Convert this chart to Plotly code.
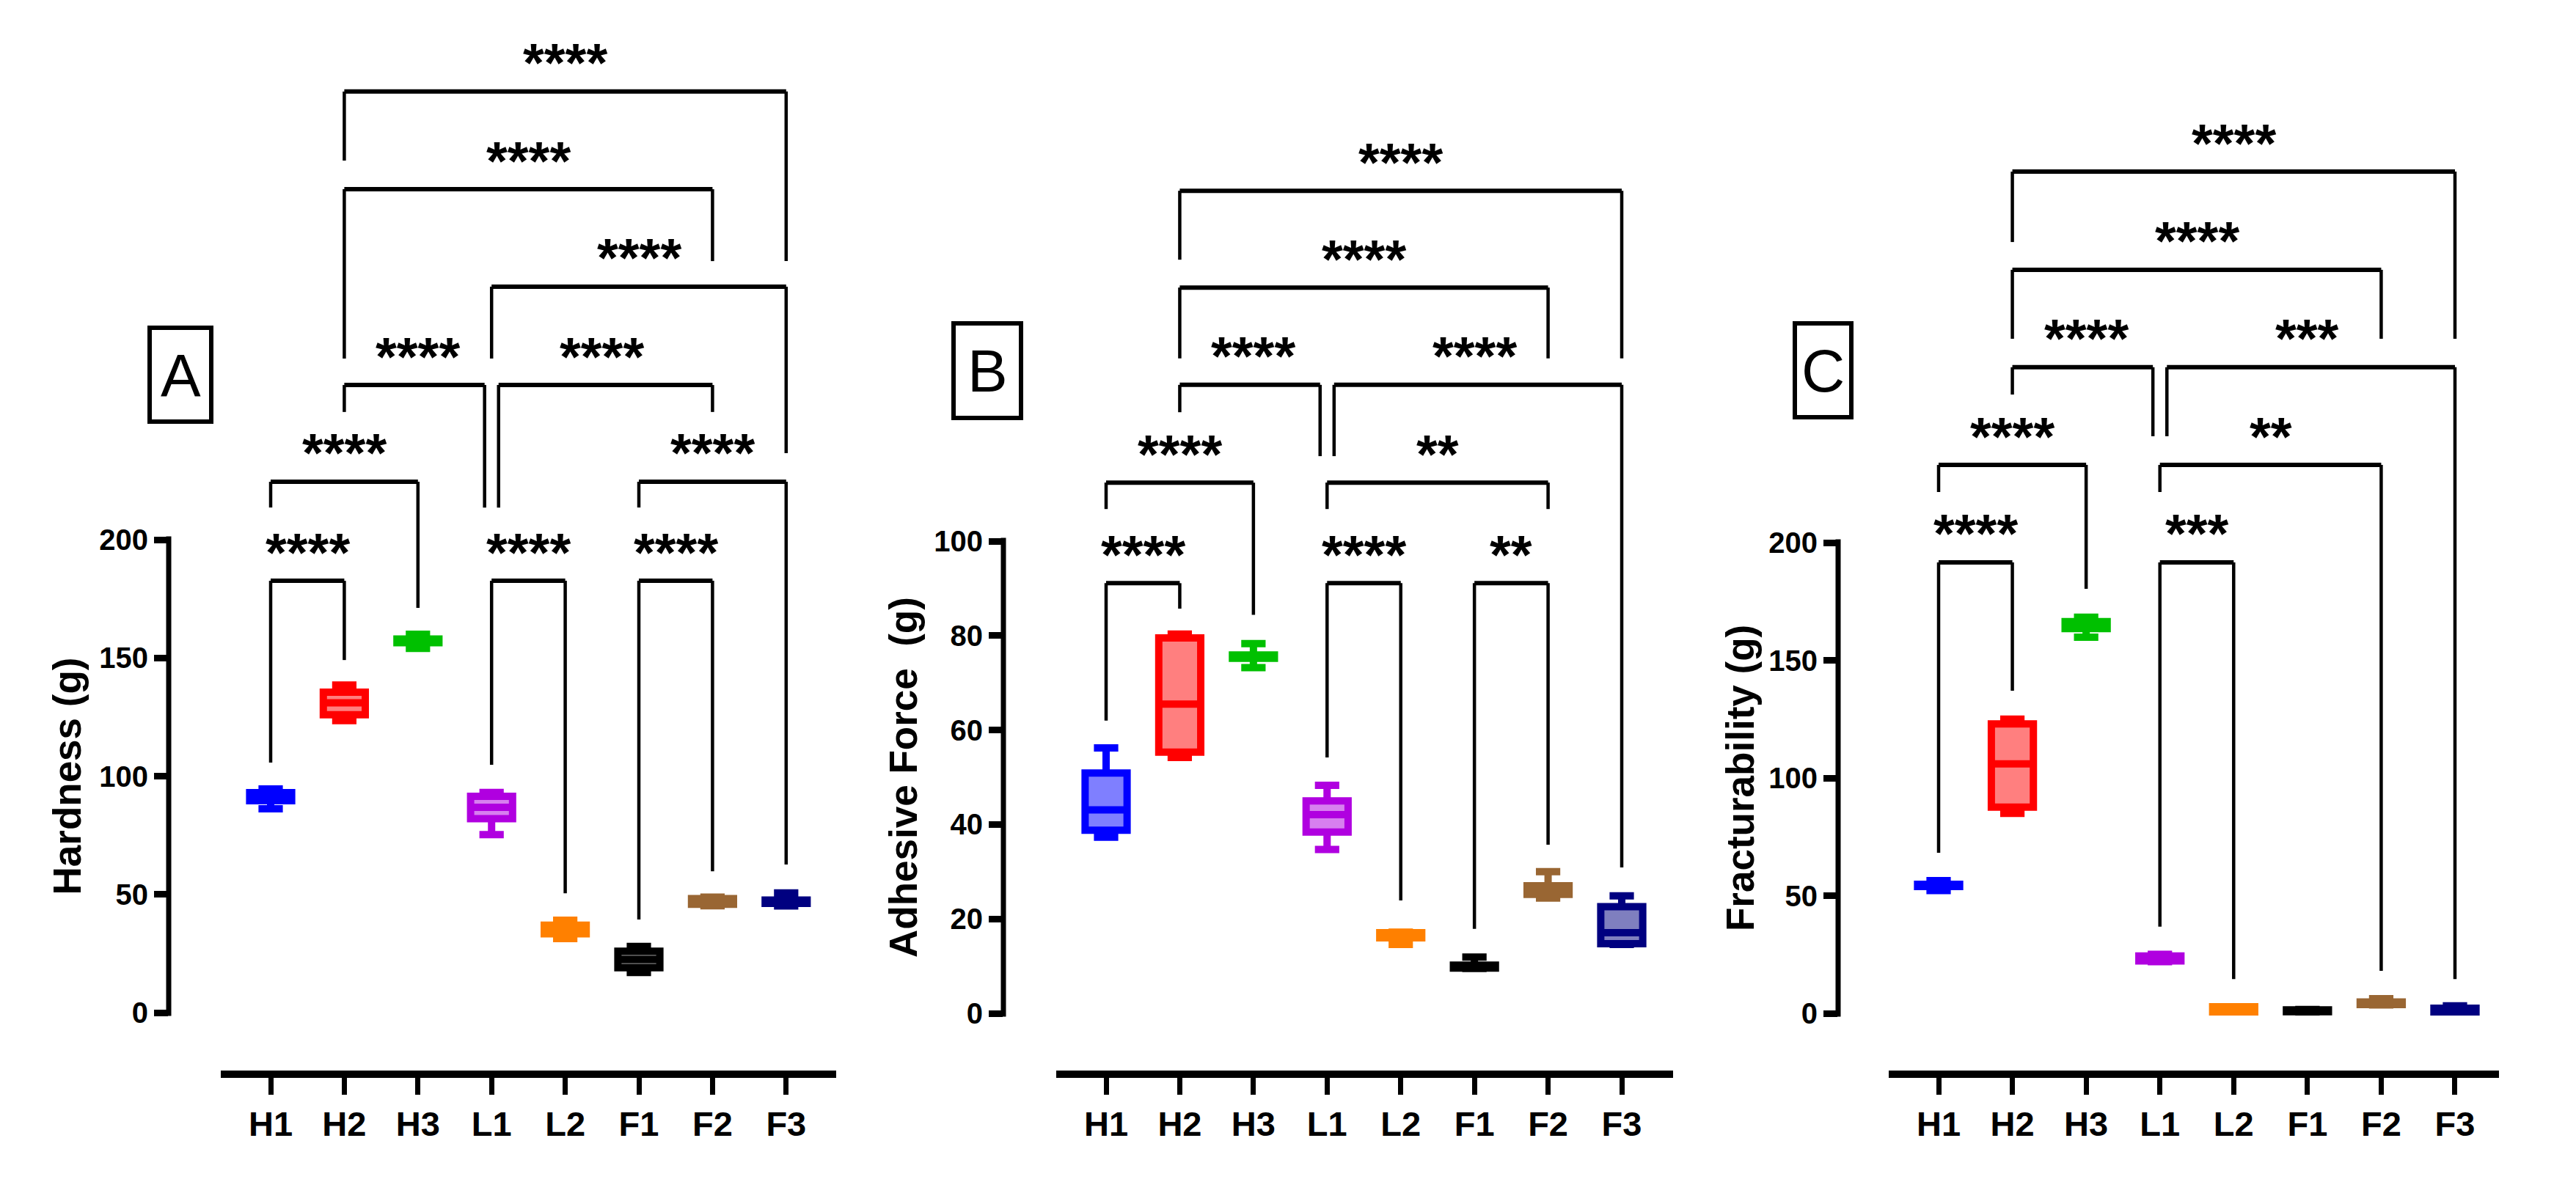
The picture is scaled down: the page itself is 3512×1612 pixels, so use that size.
import plotly.graph_objects as go

# ---------------- data ----------------
categories = ["H1", "H2", "H3", "L1", "L2", "F1", "F2", "F3"]
colors = ["#0000FF", "#FF0000", "#00C000", "#B000E0", "#FF8000", "#000000", "#996633", "#000080"]

# Panel A: Hardness (g)  (min, q1, median, q3, max)
hard_min = [86.2, 123.5, 154.0, 75.3, 31.3, 17.0, 45.2, 45.1]
hard_q1 = [89.6, 126.0, 156.4, 82.0, 33.3, 19.0, 45.8, 46.2]
hard_med = [91.3, 131.0, 157.2, 86.8, 34.5, 22.5, 47.0, 47.0]
hard_q3 = [93.0, 135.5, 158.0, 91.5, 37.0, 26.0, 48.2, 47.6]
hard_max = [94.6, 138.5, 160.0, 93.1, 39.1, 28.0, 48.8, 50.6]

# Panel B: Adhesive Force (g)
adh_min = [37.3, 54.2, 73.2, 34.7, 14.6, 9.5, 24.4, 14.6]
adh_q1 = [38.8, 55.3, 75.2, 38.4, 16.0, 9.6, 25.2, 14.75]
adh_med = [43.1, 65.5, 75.5, 42.1, 16.5, 9.9, 26.0, 17.1]
adh_q3 = [50.9, 79.5, 75.9, 45.0, 17.1, 10.2, 27.0, 22.6]
adh_max = [56.2, 80.3, 78.3, 48.3, 17.2, 11.9, 30.0, 24.9]

# Panel C: Fracturability (g)
frac_min = [52.2, 85.0, 159.8, 22.0, 0.6, 0.6, 3.6, 0.6]
frac_q1 = [53.9, 87.6, 163.5, 22.3, 0.6, 0.7, 3.7, 0.6]
frac_med = [54.3, 106.0, 165.5, 23.4, 1.5, 1.1, 4.3, 1.2]
frac_q3 = [54.8, 123.0, 166.4, 24.4, 2.8, 1.5, 4.8, 2.2]
frac_max = [56.4, 125.0, 168.3, 25.1, 2.8, 1.6, 6.2, 3.2]

hard_ticks = [0, 50, 100, 150, 200]
adh_ticks = [0, 20, 40, 60, 80, 100]
frac_ticks = [0, 50, 100, 150, 200]

# significance brackets: (group a, group b, label, bracket level, leg end a, leg end b)
hard_brackets = [
    ("H1", "H2", "****", 182.6, 105.7, 149.1),
    ("L1", "L2", "****", 182.6, 104.8, 50.5),
    ("F1", "F2", "****", 182.6, 39.4, 59.8),
    ("H1", "H3", "****", 224.5, 213.6, 171.2),
    ("F1", "F3", "****", 224.5, 213.6, 62.6),
    ("H2", "L1", "****", 265.4, 254.0, 213.6),
    ("L1", "F2", "****", 265.4, 213.6, 254.0),
    ("L1", "F3", "****", 307.0, 276.6, 236.6),
    ("H2", "F2", "****", 348.2, 276.6, 317.8),
    ("H2", "F3", "****", 389.5, 360.3, 317.8),
]
adh_brackets = [
    ("H1", "H2", "****", 91.1, 62.0, 85.7),
    ("L1", "L2", "****", 91.1, 54.2, 23.9),
    ("F1", "F2", "**", 91.1, 17.9, 35.7),
    ("H1", "H3", "****", 112.4, 106.8, 84.4),
    ("L1", "F2", "**", 112.4, 106.8, 106.8),
    ("H2", "L1", "****", 133.1, 127.3, 118.0),
    ("L1", "F3", "****", 133.1, 118.0, 30.9),
    ("H2", "F2", "****", 153.7, 138.7, 138.7),
    ("H2", "F3", "****", 174.2, 159.6, 138.7),
]
frac_brackets = [
    ("H1", "H2", "****", 191.6, 68.2, 137.1),
    ("L1", "L2", "***", 191.6, 36.8, 14.6),
    ("H1", "H3", "****", 233.0, 221.5, 180.4),
    ("L1", "F2", "**", 233.0, 221.5, 18.1),
    ("H2", "L1", "****", 274.5, 262.9, 245.2),
    ("L1", "F3", "***", 274.5, 245.2, 14.6),
    ("H2", "F2", "****", 315.9, 286.6, 286.6),
    ("H2", "F3", "****", 357.6, 327.7, 286.6),
]

# ---------------- layout geometry (pixels of the 3512x1612 page) ----------------
W, H = 3512, 1612
FONT = "Liberation Sans, Arial, sans-serif"

panels = [
    dict(letter="A", title="Hardness (g)", stats=(hard_min, hard_q1, hard_med, hard_q3, hard_max),
         ticks=hard_ticks, brackets=hard_brackets,
         yaxis_px=222, cat0_px=361, step=100.4, xline=(293, 1132), zero_px=1373, ppu=3.225,
         title_px=83, box=(196, 439, 280, 567)),
    dict(letter="B", title="Adhesive Force \u00a0(g)", stats=(adh_min, adh_q1, adh_med, adh_q3, adh_max),
         ticks=adh_ticks, brackets=adh_brackets,
         yaxis_px=1360, cat0_px=1500, step=100.43, xline=(1432, 2273), zero_px=1374, ppu=6.44,
         title_px=1223, box=(1292, 433, 1384, 562)),
    dict(letter="C", title="Fracturability (g)", stats=(frac_min, frac_q1, frac_med, frac_q3, frac_max),
         ticks=frac_ticks, brackets=frac_brackets,
         yaxis_px=2498, cat0_px=2635, step=100.57, xline=(2567, 3399), zero_px=1374, ppu=3.21,
         title_px=2364, box=(2439, 433, 2516, 561)),
]
BOTTOM_PX, TOP_PX = 1457, 10


def rgba(hexcol, a):
    h = hexcol.lstrip("#")
    r, g, b = int(h[0:2], 16), int(h[2:4], 16), int(h[4:6], 16)
    return f"rgba({r},{g},{b},{a})"


fig = go.Figure()
shapes = []
annotations = []
layout_axes = {}

for n, p in enumerate(panels, start=1):
    xa = "x" if n == 1 else f"x{n}"
    ya = "y" if n == 1 else f"y{n}"
    step = p["step"]
    xr = [(p["yaxis_px"] - p["cat0_px"]) / step, (p["xline"][1] - p["cat0_px"]) / step]
    yr = [(p["zero_px"] - BOTTOM_PX) / p["ppu"], (p["zero_px"] - TOP_PX) / p["ppu"]]
    xdom = [p["yaxis_px"] / W, p["xline"][1] / W]
    ydom = [(H - BOTTOM_PX) / H, (H - TOP_PX) / H]

    layout_axes[f"xaxis{'' if n == 1 else n}"] = dict(
        domain=xdom, range=xr, anchor=ya, showline=False, showgrid=False, zeroline=False,
        tickmode="array", tickvals=list(range(len(categories))), ticktext=categories,
        ticks="outside", ticklen=27, tickwidth=7, tickcolor="black",
        tickfont=dict(family="Liberation Sans Narrow, " + FONT, size=47, color="black", weight="bold"),
    )
    layout_axes[f"yaxis{'' if n == 1 else n}"] = dict(
        domain=ydom, range=yr, anchor=xa, showline=False, showgrid=False, zeroline=False,
        tickmode="array", tickvals=p["ticks"], ticktext=[str(t) for t in p["ticks"]],
        ticks="outside", ticklen=19, tickwidth=9, tickcolor="black",
        tickfont=dict(family=FONT, size=40, color="black", weight="bold"),
    )

    mn, q1, md, q3, mx = p["stats"]
    for i, cat in enumerate(categories):
        fig.add_trace(go.Box(
            x=[i], q1=[q1[i]], median=[md[i]], q3=[q3[i]],
            lowerfence=[mn[i]], upperfence=[mx[i]],
            width=0.57, whiskerwidth=0.58, boxpoints=False,
            fillcolor=rgba(colors[i], 0.5), line=dict(color=colors[i], width=10),
            name=cat, showlegend=False, xaxis=xa, yaxis=ya,
        ))

    # y axis line (0 .. top tick) and x axis line
    half = 4.5 / p["ppu"]
    shapes.append(dict(type="line", xref=f"{xa} domain", yref=ya, x0=0, x1=0,
                       y0=p["ticks"][0] - half, y1=p["ticks"][-1] + half,
                       line=dict(color="black", width=7)))
    shapes.append(dict(type="line", xref=xa, yref=f"{ya} domain",
                       x0=(p["xline"][0] - p["cat0_px"]) / step, x1=xr[1], y0=0, y1=0,
                       line=dict(color="black", width=10)))

    # brackets
    idx = {c: i for i, c in enumerate(categories)}
    brs = p["brackets"]
    for (a, b, lab, lvl, ea, eb) in brs:
        ia, ib = idx[a], idx[b]
        off_a = 0.0
        off_b = 0.0
        for (a2, b2, _l2, lvl2, _e1, _e2) in brs:
            if lvl2 == lvl and b2 == a:
                off_a = 0.095
            if lvl2 == lvl and a2 == b:
                off_b = -0.095
        xa0 = ia + off_a
        xb0 = ib + off_b
        shapes.append(dict(type="line", xref=xa, yref=ya, x0=xa0, x1=xb0, y0=lvl, y1=lvl,
                           line=dict(color="black", width=6)))
        shapes.append(dict(type="line", xref=xa, yref=ya, x0=xa0, x1=xa0, y0=lvl, y1=ea,
                           line=dict(color="black", width=4.5)))
        shapes.append(dict(type="line", xref=xa, yref=ya, x0=xb0, x1=xb0, y0=lvl, y1=eb,
                           line=dict(color="black", width=4.5)))
        annotations.append(dict(xref=xa, yref=ya, x=(ia + ib) / 2, y=lvl, yshift=39,
                                text=lab, showarrow=False, xanchor="center", yanchor="middle",
                                font=dict(family=FONT, size=74, color="black", weight="bold")))

    # y title
    annotations.append(dict(xref="paper", yref="paper", x=p["title_px"] / W,
                            y=(H - (p["zero_px"] - p["ppu"] * p["ticks"][-1] / 2)) / H,
                            text=p["title"], textangle=-90, showarrow=False,
                            xanchor="center", yanchor="middle",
                            font=dict(family=FONT, size=53, color="black", weight="bold")))
    # panel letter box
    bx0, by0, bx1, by1 = p["box"]
    shapes.append(dict(type="rect", xref="paper", yref="paper",
                       x0=bx0 / W, x1=bx1 / W, y0=(H - by1) / H, y1=(H - by0) / H,
                       line=dict(color="black", width=6), fillcolor="white"))
    annotations.append(dict(xref="paper", yref="paper", x=(bx0 + bx1) / 2 / W,
                            y=(H - (by0 + by1) / 2) / H, text=p["letter"], showarrow=False,
                            xanchor="center", yanchor="middle",
                            font=dict(family=FONT, size=82, color="black")))

fig.update_layout(
    width=W, height=H, autosize=False,
    margin=dict(l=0, r=0, t=0, b=0),
    paper_bgcolor="white", plot_bgcolor="white",
    showlegend=False, shapes=shapes, annotations=annotations,
    **layout_axes,
)

fig.write_html("out.html")
